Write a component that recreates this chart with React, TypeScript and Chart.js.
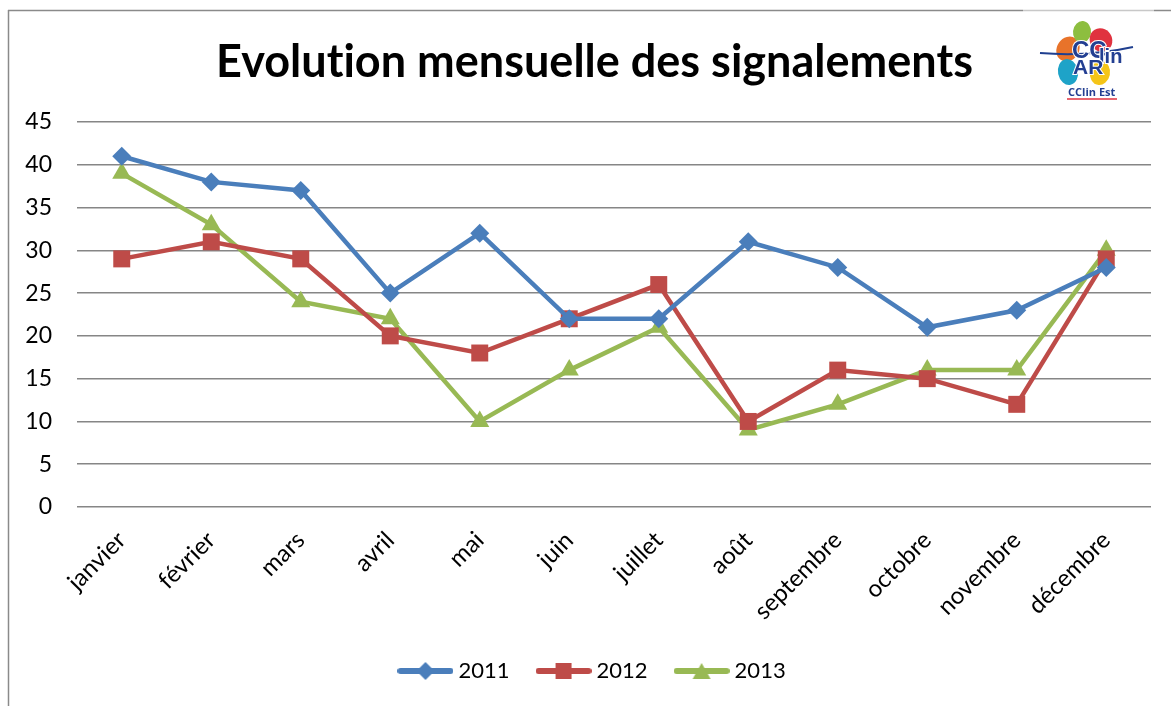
import React, { useEffect, useRef } from "react";
import { Chart, registerables } from "chart.js";

Chart.register(...registerables);

const months = ["janvier", "février", "mars", "avril", "mai", "juin", "juillet", "août", "septembre", "octobre", "novembre", "décembre"];
const series2011 = [41, 38, 37, 25, 32, 22, 22, 31, 28, 21, 23, 28];
const series2012 = [29, 31, 29, 20, 18, 22, 26, 10, 16, 15, 12, 29];
const series2013 = [39, 33, 24, 22, 10, 16, 21, 9, 12, 16, 16, 30];
const seriesNames = ["2011", "2012", "2013"];
const yMin = 0;
const yMax = 45;
const yStep = 5;

const BLUE = "#4A7EBB";
const RED = "#BE4B48";
const GREEN = "#98B954";
const FONT = "Lato, 'Open Sans', sans-serif";

function legendIcon(color: string, style: string): HTMLCanvasElement {
  const c = document.createElement("canvas");
  c.width = 56;
  c.height = 22;
  const ctx = c.getContext("2d")!;
  ctx.strokeStyle = color;
  ctx.lineWidth = 6;
  ctx.lineCap = "round";
  ctx.beginPath();
  ctx.moveTo(3, 11);
  ctx.lineTo(53, 11);
  ctx.stroke();
  ctx.fillStyle = color;
  ctx.beginPath();
  if (style === "diamond") {
    ctx.moveTo(28, 2);
    ctx.lineTo(37, 11);
    ctx.lineTo(28, 20);
    ctx.lineTo(19, 11);
  } else if (style === "square") {
    ctx.rect(20, 3, 16, 16);
  } else {
    ctx.moveTo(28, 3);
    ctx.lineTo(37, 19);
    ctx.lineTo(19, 19);
  }
  ctx.closePath();
  ctx.fill();
  return c;
}

const decor = {
  id: "decor",
  beforeDraw(chart: any) {
    const ctx = chart.ctx;
    ctx.fillStyle = "#ffffff";
    ctx.fillRect(0, 0, chart.width, chart.height);
    try {
      ctx.letterSpacing = "0.01px";
    } catch (e) {}
  },
  afterDraw(chart: any) {
    const ctx = chart.ctx;
    ctx.save();
    ctx.strokeStyle = "#8a8a8a";
    ctx.lineWidth = 1.5;
    ctx.beginPath();
    ctx.moveTo(8.5, 10);
    ctx.lineTo(8.5, 706);
    ctx.moveTo(8, 10.5);
    ctx.lineTo(1023, 10.5);
    ctx.moveTo(1154, 10.5);
    ctx.lineTo(1171, 10.5);
    ctx.stroke();
    ctx.strokeStyle = "#c8c8c8";
    ctx.beginPath();
    ctx.moveTo(1023, 10.5);
    ctx.lineTo(1154, 10.5);
    ctx.stroke();

    // logo
    const petal = (x: number, y: number, rx: number, ry: number, rot: number, col: string) => {
      ctx.fillStyle = col;
      ctx.beginPath();
      ctx.ellipse(x, y, rx, ry, rot, 0, Math.PI * 2);
      ctx.fill();
    };
    petal(1068, 49, 11, 13, 0.6, "#E8732A");
    petal(1082, 32, 9, 11, 0.1, "#8DBE3F");
    petal(1101, 40, 11, 12, -0.6, "#E0323F");
    petal(1068, 72, 10, 13, -0.2, "#1EA3C8");
    petal(1100, 73, 10, 12, 0.2, "#F5C518");
    ctx.strokeStyle = "#1F3F8F";
    ctx.lineWidth = 2;
    ctx.beginPath();
    ctx.moveTo(1040, 53);
    ctx.quadraticCurveTo(1088, 57, 1133, 47);
    ctx.stroke();
    ctx.fillStyle = "#233F92";
    ctx.strokeStyle = "#ffffff";
    ctx.lineWidth = 2;
    ctx.textBaseline = "alphabetic";
    const txt = (t: string, f: string, x: number, y: number) => {
      ctx.font = f;
      ctx.strokeText(t, x, y);
      ctx.fillText(t, x, y);
    };
    txt("CC", "bold 24px 'Liberation Sans Narrow', 'Liberation Sans', sans-serif", 1072, 58);
    txt("lin", "bold 20px 'Liberation Sans Narrow', 'Liberation Sans', sans-serif", 1099, 63);
    txt("AR", "bold 21px 'Liberation Sans Narrow', 'Liberation Sans', sans-serif", 1073, 74);
    ctx.font = "bold 11px 'Open Sans', sans-serif";
    ctx.fillText("CClin Est", 1068, 96);
    ctx.strokeStyle = "#E0323F";
    ctx.lineWidth = 1.5;
    ctx.beginPath();
    ctx.moveTo(1067, 99);
    ctx.lineTo(1117, 99);
    ctx.stroke();
    ctx.restore();
  },
};

export default function App() {
  const ref = useRef<HTMLCanvasElement | null>(null);
  useEffect(() => {
    if (!ref.current) return;
    const mk = (label: string, data: number[], color: string, pointStyle: string, radius: number) => ({
      label,
      data,
      borderColor: color,
      backgroundColor: color,
      borderWidth: 4.5,
      pointStyle,
      pointRadius: radius,
      pointBorderWidth: 0,
      pointBackgroundColor: color,
      tension: 0,
      yAxisID: "y",
    });
    const icons = [legendIcon(BLUE, "diamond"), legendIcon(RED, "square"), legendIcon(GREEN, "triangle")];
    const chart = new Chart(ref.current, {
      type: "line",
      data: {
        labels: months,
        datasets: [
          mk(seriesNames[0], series2011, BLUE, "rectRot", 9.5),
          mk(seriesNames[1], series2012, RED, "rect", 12),
          mk(seriesNames[2], series2013, GREEN, "triangle", 11),
        ],
      },
      options: {
        responsive: false,
        animation: false,
        devicePixelRatio: 1,
        layout: { padding: { left: 18, right: 0, top: 0, bottom: 14 } },
        plugins: {
          title: {
            display: true,
            text: "Evolution mensuelle des signalements",
            color: "#000",
            font: { family: FONT, size: 45, weight: "bold" },
            padding: { top: 35, bottom: 33 },
          },
          legend: {
            position: "bottom",
            labels: {
              color: "#000",
              font: { family: FONT, size: 22 },
              usePointStyle: true,
              pointStyleWidth: 44,
              boxHeight: 22,
              padding: 32,
              generateLabels: () =>
                seriesNames.map((n, i) => ({
                  text: n,
                  pointStyle: icons[i],
                  fillStyle: "transparent",
                  strokeStyle: "transparent",
                  lineWidth: 0,
                  hidden: false,
                  datasetIndex: i,
                  fontColor: "#000",
                })),
            },
          },
          tooltip: { enabled: false },
        },
        scales: {
          x: {
            offset: true,
            grid: { display: false, drawTicks: false },
            border: { display: false },
            ticks: {
              color: "#000",
              font: { family: FONT, size: 24 },
              maxRotation: 45,
              minRotation: 45,
              padding: 19,
            },
            afterFit: (s: any) => {
              s.height = 121;
            },
          },
          y: {
            position: "left",
            min: yMin,
            max: yMax,
            ticks: {
              stepSize: yStep,
              color: "#000",
              font: { family: FONT, size: 23 },
              padding: 25,
            },
            grid: { color: "#868686", lineWidth: 1.5, drawTicks: false },
            border: { display: false },
            afterFit: (s: any) => {
              s.width = 59;
            },
          },
          spacer: {
            type: "linear",
            position: "right",
            min: yMin,
            max: yMax,
            grid: { display: false, drawTicks: false },
            border: { display: false },
            ticks: { display: false },
            afterFit: (s: any) => {
              s.width = 20;
            },
          },
        },
      },
      plugins: [decor],
    });
    return () => chart.destroy();
  }, []);
  return (
    <div style={{ position: "fixed", left: 0, top: 0, width: 1171, height: 706, background: "#fff" }}>
      <canvas ref={ref} width={1171} height={706} style={{ display: "block" }} />
    </div>
  );
}
